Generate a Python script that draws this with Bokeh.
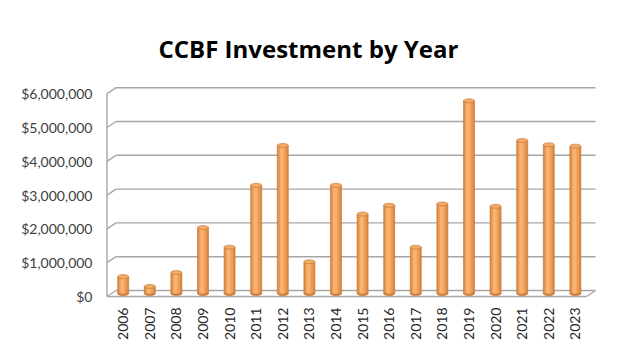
import math
from bokeh.plotting import figure
from bokeh.models import Range1d, FixedTicker, NumeralTickFormatter, ColumnDataSource
from bokeh.transform import dodge
from bokeh.embed import file_html
from bokeh.resources import INLINE

years = [2006, 2007, 2008, 2009, 2010, 2011, 2012, 2013, 2014,
         2015, 2016, 2017, 2018, 2019, 2020, 2021, 2022, 2023]
investment = [500000, 210000, 620000, 1950000, 1370000, 3200000, 4380000, 940000, 3200000,
              2350000, 2610000, 1370000, 2650000, 5700000, 2580000, 4530000, 4400000, 4360000]
y_ticks = [0, 1000000, 2000000, 3000000, 4000000, 5000000, 6000000]

# layout constants (pixels -> data)
PX_X = 26.6          # px per category
PX_Y = 33.8 / 1e6    # px per dollar
X0 = 2005.335
X1 = X0 + 491 / PX_X
Y0 = -2 / PX_Y
Y1 = 212 / PX_Y
DX = 9 / PX_X        # depth offset x
DY = 6 / PX_Y        # depth offset y
XL = X0 + 1.5 / PX_X
XR = X0 + 490 / PX_X
BASE = 3 / PX_Y      # bars sit at mid depth

p = figure(width=624, height=344, output_backend="svg", toolbar_location=None,
           x_range=Range1d(X0, X1), y_range=Range1d(Y0, Y1),
           min_border_left=105, min_border_right=28, min_border_top=84, min_border_bottom=46)
p.outline_line_color = None
p.xgrid.visible = False
p.ygrid.visible = False
p.background_fill_color = "white"
p.border_fill_color = "white"

# title
p.title.text = "CCBF Investment by Year"
p.title.text_font = "Open Sans"
p.title.text_font_style = "bold"
p.title.text_font_size = "24px"
p.title.text_color = "#000000"
p.title.align = "left"
p.title.offset = 53
p.title.standoff = 40

# axes
p.yaxis.ticker = FixedTicker(ticks=y_ticks)
p.yaxis.formatter = NumeralTickFormatter(format="$0,0")
p.yaxis.axis_line_color = None
p.yaxis.major_tick_line_color = None
p.yaxis.minor_tick_line_color = None
p.yaxis.major_tick_out = 0
p.yaxis.major_tick_in = 0
p.yaxis.major_label_standoff = 13
p.yaxis.major_label_text_font = "Lato"
p.yaxis.major_label_text_font_size = "14px"
p.yaxis.major_label_text_color = "#404040"

p.xaxis.ticker = FixedTicker(ticks=years)
p.xaxis.axis_line_color = None
p.xaxis.major_tick_line_color = None
p.xaxis.minor_tick_line_color = None
p.xaxis.major_tick_out = 0
p.xaxis.major_tick_in = 0
p.xaxis.major_label_standoff = 9
p.xaxis.major_label_orientation = math.pi / 2
p.xaxis.major_label_text_font = "Lato"
p.xaxis.major_label_text_font_size = "14px"
p.xaxis.major_label_text_color = "#262626"

GRID = "#a6a6a6"
# back wall gridlines
p.segment(x0=[XL + DX] * len(y_ticks), y0=[v + DY for v in y_ticks],
          x1=[XR] * len(y_ticks), y1=[v + DY for v in y_ticks],
          line_color=GRID, line_width=1.4)
# left wall diagonals
p.segment(x0=[XL] * len(y_ticks), y0=y_ticks,
          x1=[XL + DX] * len(y_ticks), y1=[v + DY for v in y_ticks],
          line_color=GRID, line_width=1.4)
# left wall front edge
p.segment(x0=[XL], y0=[0], x1=[XL], y1=[max(y_ticks)], line_color=GRID, line_width=1.4)
# floor front edge and right diagonal
p.segment(x0=[XL, XR - DX], y0=[0, 0], x1=[XR - DX, XR], y1=[0, DY],
          line_color=GRID, line_width=1.4)

# cylinders
src = ColumnDataSource(dict(x=years, top=[v + BASE for v in investment],
                            base=[BASE] * len(years)))
W = 11 / PX_X
p.ellipse(x="x", y="base", width=W, height=4, height_units="screen", source=src,
          fill_color="#d3813a", line_color="#b8692b", line_width=0.6)
p.vbar(x="x", bottom="base", top="top", width=W, source=src,
       fill_color="#dc8a42", line_color="#c0722f", line_width=0.6)
p.vbar(x=dodge("x", -0.01), bottom="base", top="top", width=W * 0.7, source=src,
       fill_color="#ee9d56", line_color=None)
p.vbar(x=dodge("x", -0.03), bottom="base", top="top", width=W * 0.35, source=src,
       fill_color="#f7b274", line_color=None)
p.ellipse(x="x", y="top", width=W, height=4, height_units="screen", source=src,
          fill_color="#f4aa68", line_color="#c0722f", line_width=0.6)

open("out.html", "w").write(file_html(p, INLINE))
